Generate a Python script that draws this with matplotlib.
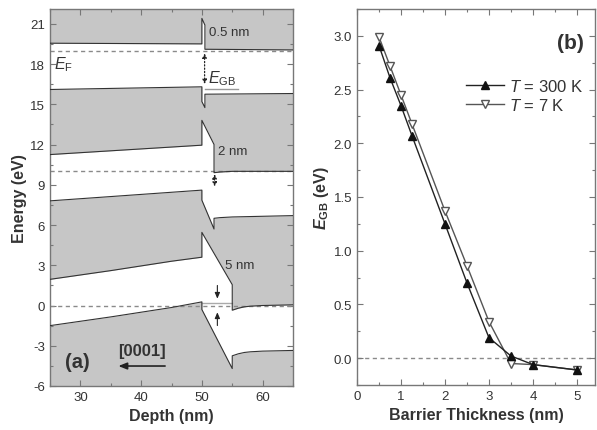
import matplotlib
matplotlib.use("Agg")
import matplotlib.pyplot as plt
from matplotlib.ticker import MultipleLocator

plt.rcParams['font.family'] = ['Liberation Sans', 'DejaVu Sans']
plt.rcParams['mathtext.fontset'] = 'custom'
plt.rcParams['mathtext.rm'] = 'Liberation Sans'
plt.rcParams['mathtext.it'] = 'Liberation Sans:italic'
plt.rcParams['mathtext.bf'] = 'Liberation Sans:bold'
plt.rcParams['mathtext.bfit'] = 'Liberation Sans:bold:italic'
plt.rcParams['axes.unicode_minus'] = False

# ---------------- Panel (a): band diagrams ----------------
# 0.5 nm barrier (Fermi level at 19 eV)
depth_05 = [25, 50, 50, 50.5, 50.5, 65]
cb_05 = [19.55, 19.5, 21.4, 20.9, 19.1, 19.05]
vb_05 = [16.1, 16.3, 15.2, 14.75, 15.75, 15.8]
ef_05 = 19.0

# 2 nm barrier (Fermi level at 10 eV)
depth_2 = [25, 50, 50, 52, 52, 53, 55, 65]
cb_2 = [11.25, 11.95, 13.8, 12.0, 9.9, 9.95, 10.0, 10.0]
vb_2 = [7.8, 8.6, 7.85, 5.7, 6.5, 6.55, 6.6, 6.7]
ef_2 = 10.0

# 5 nm barrier (Fermi level at 0 eV)
depth_5 = [25, 35, 45, 50, 50, 55, 55, 56, 57, 58, 60, 65]
cb_5 = [1.95, 2.6, 3.3, 3.6, 5.45, 1.55, -0.35, -0.2, -0.1, -0.05, 0.0, 0.05]
vb_5 = [-1.5, -0.85, -0.15, 0.27, -0.3, -4.7, -3.75, -3.6, -3.5, -3.45, -3.4, -3.35]
ef_5 = 0.0

# ---------------- Panel (b): E_GB vs barrier thickness ----------------
thick_300 = [0.5, 0.75, 1.0, 1.25, 2.0, 2.5, 3.0, 3.5, 4.0, 5.0]
egb_300 = [2.91, 2.61, 2.35, 2.07, 1.25, 0.70, 0.19, 0.02, -0.06, -0.11]
thick_7 = [0.5, 0.75, 1.0, 1.25, 2.0, 2.5, 3.0, 3.5, 4.0, 5.0]
egb_7 = [2.99, 2.72, 2.45, 2.18, 1.37, 0.86, 0.34, -0.05, -0.06, -0.11]

GRAY = '#c6c6c6'
EDGE = '#333333'
SPINE = '#777777'
TXT = '#333333'

fig = plt.figure(figsize=(5.97, 4.31), dpi=100)
axa = fig.add_axes([50/597, 44/431, 243/597, 377/431])
axb = fig.add_axes([357/597, 45/431, 238/597, 376/431])

def style(ax):
    for s in ax.spines.values():
        s.set_color(SPINE)
        s.set_linewidth(1.0)
    ax.tick_params(which='both', direction='in', top=True, right=True,
                   color=SPINE, labelcolor=TXT, labelsize=9.5)
    ax.tick_params(which='major', length=4, width=0.8)
    ax.tick_params(which='minor', length=2, width=0.8)

# Panel a
axa.set_facecolor(GRAY)
for d, cb, vb, ef in [(depth_05, cb_05, vb_05, ef_05),
                      (depth_2, cb_2, vb_2, ef_2),
                      (depth_5, cb_5, vb_5, ef_5)]:
    axa.fill_between(d, vb, cb, color='white', lw=0, zorder=1)
    axa.plot(d, cb, color=EDGE, lw=0.8, zorder=3)
    axa.plot(d, vb, color=EDGE, lw=0.8, zorder=3)
    axa.axhline(ef, color='#8a8a8a', lw=1.0, ls=(0, (3, 2.5)), zorder=2)

axa.set_xlim(25, 65)
axa.set_ylim(-6, 22.1)
axa.xaxis.set_major_locator(MultipleLocator(10))
axa.xaxis.set_minor_locator(MultipleLocator(5))
axa.yaxis.set_major_locator(MultipleLocator(3))
axa.yaxis.set_minor_locator(MultipleLocator(1.5))
style(axa)
axa.set_xlabel('Depth (nm)', fontsize=11.5, fontweight='bold', color=TXT, labelpad=4)
axa.set_ylabel('Energy (eV)', fontsize=11.5, fontweight='bold', color=TXT, labelpad=2)

# E_GB markers
axa.plot([50.5, 56], [16.15, 16.15], color='#999999', lw=1.0, zorder=2)
axa.annotate('', xy=(50.45, 16.3), xytext=(50.45, 19.0),
             arrowprops=dict(arrowstyle='<|-|>,head_length=0.25,head_width=0.12',
                             color='#222222', lw=0.9, ls=':'), zorder=4)
axa.annotate('', xy=(52.1, 8.65), xytext=(52.1, 10.0),
             arrowprops=dict(arrowstyle='<|-|>,head_length=0.25,head_width=0.12',
                             color='#222222', lw=0.9, ls=':'), zorder=4)
axa.plot([50, 55], [0.2, 0.2], color='#aaaaaa', lw=1.0, zorder=2)
axa.annotate('', xy=(52.55, 0.3), xytext=(52.55, 1.7),
             arrowprops=dict(arrowstyle='-|>,head_length=0.35,head_width=0.15',
                             color='#222222', lw=0.8), zorder=4)
axa.annotate('', xy=(52.55, -0.3), xytext=(52.55, -1.7),
             arrowprops=dict(arrowstyle='-|>,head_length=0.35,head_width=0.15',
                             color='#222222', lw=0.8), zorder=4)

axa.text(54.5, 20.4, '0.5 nm', fontsize=9.5, color=TXT, ha='center', va='center', zorder=5)
axa.text(55.0, 11.5, '2 nm', fontsize=9.5, color=TXT, ha='center', va='center', zorder=5)
axa.text(56.3, 3.05, '5 nm', fontsize=9.5, color=TXT, ha='center', va='center', zorder=5)
axa.text(27.3, 18.0, r'$E_{\mathrm{F}}$', fontsize=11.5, color=TXT, ha='center', va='center', zorder=5)
axa.text(53.4, 17.0, r'$E_{\mathrm{GB}}$', fontsize=11.5, color=TXT, ha='center', va='center', zorder=5)
axa.text(0.111, 0.064, '(a)', transform=axa.transAxes, fontsize=14.5, fontweight='bold',
         color=TXT, ha='center', va='center', zorder=5)
axa.text(0.379, 0.093, '[0001]', transform=axa.transAxes, fontsize=12, fontweight='bold',
         color=TXT, ha='center', va='center', zorder=5)
axa.annotate('', xy=(0.27, 0.053), xytext=(0.485, 0.053), xycoords='axes fraction',
             arrowprops=dict(arrowstyle='-|>,head_length=0.5,head_width=0.2',
                             color='#222222', lw=1.2), zorder=5)

# Panel b
axb.axhline(0, color='#8a8a8a', lw=1.0, ls=(0, (3, 2.5)), zorder=1)
axb.plot(thick_300, egb_300, color='#222222', lw=1.0, marker='^', ms=6,
         mfc='#111111', mec='#111111', label=r'$T$ = 300 K', zorder=3)
axb.plot(thick_7, egb_7, color='#555555', lw=1.0, marker='v', ms=6,
         mfc='white', mec='#555555', label=r'$T$ = 7 K', zorder=2)
axb.set_xlim(0, 5.41)
axb.set_ylim(-0.25, 3.25)
axb.xaxis.set_major_locator(MultipleLocator(1))
axb.xaxis.set_minor_locator(MultipleLocator(0.5))
axb.yaxis.set_major_locator(MultipleLocator(0.5))
axb.yaxis.set_minor_locator(MultipleLocator(0.25))
axb.yaxis.set_major_formatter(matplotlib.ticker.FormatStrFormatter('%.1f'))
style(axb)
axb.set_xlabel('Barrier Thickness (nm)', fontsize=11.5, fontweight='bold', color=TXT, labelpad=4)
axb.set_ylabel(r'$\mathbfit{E}_{\mathbf{GB}}$ (eV)', fontsize=11.5, fontweight='bold',
               color=TXT, labelpad=2)
leg = axb.legend(loc='upper left', bbox_to_anchor=(0.43, 0.835), frameon=False,
                 fontsize=12, handlelength=2.3, handletextpad=0.3, labelspacing=0.2,
                 borderaxespad=0)
for t in leg.get_texts():
    t.set_color(TXT)
axb.text(0.895, 0.912, '(b)', transform=axb.transAxes, fontsize=15, fontweight='bold',
         color=TXT, ha='center', va='center')

fig.savefig('out.png', dpi=100)
